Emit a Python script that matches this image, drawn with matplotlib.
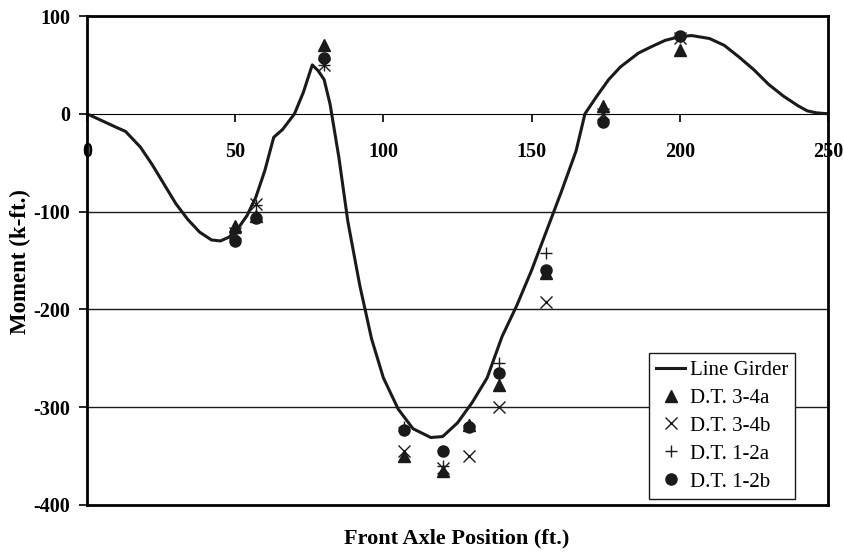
import matplotlib
matplotlib.use("Agg")
import matplotlib.pyplot as plt
from matplotlib.lines import Line2D

# Line girder influence curve (front axle position, moment)
girder_x = [0, 5, 10, 13, 18, 22, 26, 30, 34, 38, 42, 45, 48, 51, 54, 57, 60, 63,
            66, 70, 73, 76, 78, 80, 82, 85, 88, 92, 96, 100, 105, 110, 116, 120,
            125, 130, 135, 140, 145, 150, 155, 160, 165, 168, 172, 176, 180,
            186, 190, 195, 200, 204, 210, 215, 220, 225, 230, 235, 240, 243,
            246, 250]
girder_y = [0, -7, -14, -18, -34, -52, -72, -92, -108, -121, -129, -130, -126,
            -117, -104, -85, -58, -24, -16, 0, 22, 50, 44, 35, 10, -45, -110,
            -175, -230, -270, -302, -322, -331, -330, -316, -295, -270, -228,
            -196, -160, -120, -80, -38, 0, 18, 35, 48, 62, 68, 75, 79, 80, 77,
            70, 58, 45, 30, 18, 8, 3, 1, 0]

# Measured moments by truck position
test_x = [50, 57, 80, 107, 120, 129, 139, 155, 174, 200]
dt34a = [-115, -105, 70, -350, -365, -318, -277, -163, 8, 65]
dt34b = [-122, -92, 50, -345, -362, -350, -300, -192, 0, 78]
dt12a = [-122, -93, 50, -320, -360, -318, -255, -142, 0, 79]
dt12b = [-130, -107, 57, -323, -345, -320, -265, -160, -8, 80]

x_ticks = [0, 50, 100, 150, 200, 250]
y_ticks = [-400, -300, -200, -100, 0, 100]

ink = "#1a1a1a"
serif = ["Liberation Serif", "DejaVu Serif"]
plt.rcParams["font.family"] = serif
plt.rcParams["axes.unicode_minus"] = False

fig = plt.figure(figsize=(8.44, 5.56), dpi=100)
ax = fig.add_axes([87 / 844, 1 - 505 / 556, (828 - 87) / 844, (505 - 16) / 556])
ax.set_xlim(0, 250)
ax.set_ylim(-400, 100)

for yv in [-300, -200, -100]:
    ax.axhline(yv, color=ink, lw=1.0, zorder=1)

ax.plot(girder_x, girder_y, color=ink, lw=2.2, zorder=3)
ax.plot(test_x, dt34a, ls="none", marker="^", ms=8, color=ink, zorder=4)
ax.plot(test_x, dt34b, ls="none", marker="x", ms=8, mew=1.0, color=ink, zorder=4)
ax.plot(test_x, dt12a, ls="none", marker="+", ms=9, mew=1.0, color=ink, zorder=4)
ax.plot(test_x, dt12b, ls="none", marker="o", ms=8, color=ink, zorder=4)

for sp in ax.spines.values():
    sp.set_linewidth(2.0)
    sp.set_color("black")
    sp.set_zorder(5)

ax.set_yticks(y_ticks)
ax.tick_params(axis="y", direction="out", length=6, width=1.2, pad=6,
               labelsize=14.5)
for lab in ax.get_yticklabels():
    lab.set_fontweight("bold")
ax.set_xticks([])

# x axis drawn along the zero moment line
zero_ax = ax.secondary_xaxis(0.8)
zero_ax.xaxis.set_ticks_position("bottom")
zero_ax.set_xticks(x_ticks)
zero_ax.spines["bottom"].set_linewidth(1.2)
zero_ax.tick_params(axis="x", which="both", bottom=True, top=False,
                    labelbottom=True, labeltop=False, direction="out",
                    length=6, width=1.2, pad=14, labelsize=14.5)
for lab in zero_ax.get_xticklabels():
    lab.set_fontweight("bold")

fig.text(457 / 844, 1 - 538 / 556, "Front Axle Position (ft.)", ha="center",
         va="center", fontsize=16, fontweight="bold")
fig.text(20 / 844, 1 - 262 / 556, "Moment (k-ft.)", ha="center", va="center",
         rotation=90, fontsize=16.5, fontweight="bold")

handles = [
    Line2D([], [], color=ink, lw=2.2),
    Line2D([], [], ls="none", marker="^", ms=8, color=ink),
    Line2D([], [], ls="none", marker="x", ms=8, mew=1.0, color=ink),
    Line2D([], [], ls="none", marker="+", ms=9, mew=1.0, color=ink),
    Line2D([], [], ls="none", marker="o", ms=8, color=ink),
]
labels = ["Line Girder", "D.T. 3-4a", "D.T. 3-4b", "D.T. 1-2a", "D.T. 1-2b"]
leg = fig.legend(handles, labels, loc="upper left",
                 bbox_to_anchor=(649 / 844, 1 - 353 / 556), borderaxespad=0,
                 fancybox=False, shadow=False, framealpha=1, edgecolor=ink,
                 fontsize=15, handlelength=1.4, handletextpad=0.2,
                 labelspacing=0.4, borderpad=0.35)
leg.get_frame().set_linewidth(1.0)

fig.savefig("out.png", dpi=100)
